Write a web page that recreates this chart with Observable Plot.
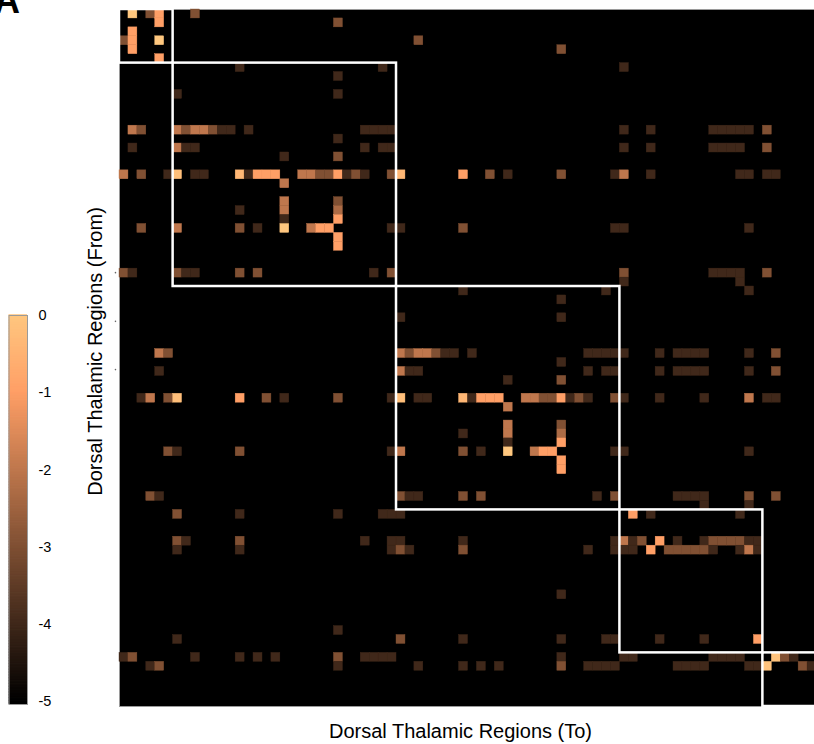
<!DOCTYPE html>
<html>
<head>
<meta charset="utf-8">
<script src="https://cdn.jsdelivr.net/npm/d3@7"></script>
<script src="https://cdn.jsdelivr.net/npm/@observablehq/plot@0.6"></script>
<style>
html,body{margin:0;padding:0;background:#fff;width:814px;height:744px;overflow:hidden;position:relative;font-family:"Liberation Sans",Arial,sans-serif}
#matrix,#bar{position:absolute;left:0;top:0}
#panel{position:absolute;left:-6px;top:-17px;font:bold 36px "Liberation Sans",Arial,sans-serif;color:#000;line-height:36px}
svg{display:block}
</style>
</head>
<body>
<div id="matrix"></div>
<div id="bar"></div>
<div id="panel">A</div>
<script>
const regionCount = 78;
const xLabel = "Dorsal Thalamic Regions (To)";
const yLabel = "Dorsal Thalamic Regions (From)";
const blockEdges = [0, 6, 31, 56, 72, 78];
const colorbarTicks = [0, -1, -2, -3, -4, -5];
const colorDomain = [-5, -1, 0];
const colorRange = ["#000000", "#ff9f66", "#ffc77f"];
const leftEdgeSpecks = [29.45, 34.9, 40.3];
// each row: [row, [col, log10 value, col, log10 value, ...]]
const sparseRows = [
[0,[1,0,3,-3,4,-1,8,-3]],
[1,[4,-1,24,-3]],
[2,[1,-1]],
[3,[0,-3,1,-1,4,0,33,-3]],
[4,[1,-1,49,-3]],
[5,[4,-1]],
[6,[13,-4,29,-4,56,-4]],
[7,[24,-4]],
[9,[6,-4,24,-4]],
[13,[1,-2,2,-3,6,-2,7,-3,8,-2,9,-2,10,-3,11,-4,12,-4,14,-4,27,-4,28,-4,29,-4,30,-4,56,-4,59,-4,66,-4,67,-4,68,-4,69,-4,70,-4,72,-3]],
[14,[24,-4]],
[15,[1,-4,6,-2,7,-4,8,-4,27,-4,29,-4,30,-4,56,-4,59,-4,66,-4,67,-4,68,-4,69,-4,72,-3]],
[16,[18,-4,24,-3]],
[18,[0,-2,2,-3,5,-4,6,-0.2,8,-4,9,-4,13,-0.4,14,-4,15,-1,16,-1,17,-1,20,-2,21,-2,22,-3,23,-3,24,-1,25,-4,26,-3,27,-4,30,-3,31,-0.4,38,-1,41,-3,43,-4,49,-3,55,-4,56,-2,59,-4,69,-4,70,-4,72,-4,73,-4]],
[19,[18,-2]],
[21,[18,-2,24,-3]],
[22,[13,-4,18,-2,24,-2.3]],
[23,[18,-4,24,-1]],
[24,[2,-3,6,-2,13,-3,15,-4,18,0,21,-2,22,-1,23,-1,30,-4,31,-4,38,-3,55,-4,56,-4,70,-4]],
[25,[24,-1]],
[26,[24,-1]],
[29,[0,-3,1,-4,6,-3,7,-4,8,-4,13,-3,15,-3,28,-4,30,-3,56,-3,66,-4,67,-4,68,-4,69,-4,72,-3]],
[30,[56,-4,69,-4]],
[31,[38,-4,54,-4,70,-4]],
[32,[49,-4]],
[34,[31,-4,49,-4]],
[38,[4,-2,5,-3,31,-2,32,-3,33,-2,34,-2,35,-3,36,-4,37,-4,39,-4,52,-4,53,-4,54,-4,55,-4,56,-4,60,-4,62,-4,63,-4,64,-4,65,-4,70,-4,73,-3]],
[39,[49,-4]],
[40,[4,-4,31,-2,32,-4,33,-4,52,-4,54,-4,55,-4,60,-4,62,-4,63,-4,64,-4,65,-4,70,-4,73,-3]],
[41,[43,-4,49,-3]],
[43,[2,-4,3,-2,5,-3,6,-0.2,13,-1,16,-3,18,-4,24,-3,30,-4,31,-0.2,33,-4,34,-4,38,-0.4,39,-4,40,-1,41,-1,42,-1,45,-2,46,-2,47,-3,48,-3,49,-1,50,-4,51,-3,52,-4,55,-3,56,-4,60,-4,65,-4,70,-2,72,-4,73,-4]],
[44,[43,-2]],
[46,[43,-2,49,-3]],
[47,[38,-4,43,-2,49,-2.3]],
[48,[43,-4,49,-1]],
[49,[5,-3,6,-4,13,-3,30,-4,31,-2,38,-3,40,-4,43,0,46,-2,47,-1,48,-1,55,-4,56,-4,70,-4]],
[50,[49,-1]],
[51,[49,-1]],
[54,[3,-3,4,-4,31,-3,32,-4,33,-4,38,-3,40,-3,53,-4,55,-3,62,-4,63,-4,64,-4,65,-4,70,-3,73,-3]],
[55,[65,-4,70,-4]],
[56,[6,-3,13,-4,24,-4,29,-4,30,-4,31,-4,57,-1,59,-4,69,-4]],
[59,[6,-3,7,-4,13,-3,27,-4,30,-4,31,-4,38,-4,55,-4,56,-2,57,-4,58,-3,60,-1,62,-4,65,-4,66,-3,67,-3,68,-3,69,-3,70,-4,71,-4]],
[60,[6,-4,13,-4,30,-4,31,-3,32,-4,38,-3,52,-4,55,-4,56,-4,57,-4,59,-1,61,-3,62,-3,63,-3,64,-3,65,-3,66,-4,69,-4,70,-2,71,-4]],
[65,[49,-4]],
[69,[24,-4]],
[70,[6,-4,31,-3,38,-4,49,-4,54,-4,55,-4,60,-4,65,-4,71,-1]],
[72,[0,-4,1,-3,8,-4,13,-4,15,-4,17,-4,24,-3,27,-4,28,-4,29,-4,30,-4,49,-4,56,-4,57,-4,66,-4,67,-4,68,-4,69,-4,73,-0.1,74,-3,75,-4]],
[73,[3,-4,4,-3,24,-4,33,-4,38,-4,40,-4,42,-4,49,-3,52,-4,53,-4,54,-4,55,-4,62,-4,63,-4,64,-4,65,-4,70,-4,71,-4,72,-0.1,76,-3,77,-4]]
];

const cells = sparseRows.flatMap(([row, pairs]) =>
  d3.range(0, pairs.length, 2).map(i => ({row, col: pairs[i], value: pairs[i + 1]})));
const blocks = d3.pairs(blockEdges).map(([a, b]) => ({a, b}));
const color = {type: "linear", domain: colorDomain, range: colorRange, interpolate: "rgb"};
const fontFamily = '"Liberation Sans", Arial, sans-serif';

const matrix = Plot.plot({
  width: 814, height: 744,
  marginLeft: 119, marginRight: -2, marginTop: 9, marginBottom: 38,
  style: {background: "transparent", fontFamily},
  x: {domain: [0, regionCount], axis: null},
  y: {domain: [0, regionCount], reverse: true, axis: null},
  color,
  marks: [
    Plot.frame({fill: "#000", stroke: "#9a9a9a", strokeWidth: 1}),
    Plot.rect(cells, {x1: "col", x2: d => d.col + 1, y1: "row", y2: d => d.row + 1, fill: "value", stroke: "value", strokeWidth: 0.4}),
    Plot.rect(blocks, {x1: "a", x2: "b", y1: "a", y2: "b", fill: "none", stroke: "#fff", strokeWidth: 2.5}),
    Plot.dot(leftEdgeSpecks, {x: -0.45, y: d => d, r: 0.8, fill: "#666"}),
    Plot.text([xLabel], {x: regionCount / 2, y: regionCount, text: d => d, dx: -7.5, dy: 25, fontSize: 20, fill: "#000"}),
    Plot.text([yLabel], {x: 0, y: regionCount / 2, text: d => d, rotate: -90, dx: -24, dy: -6.5, fontSize: 20, fill: "#000"})
  ]
});
document.getElementById("matrix").append(matrix);

const barValues = d3.range(-5.04, 0, 0.02);
const bar = Plot.plot({
  width: 60, height: 744,
  marginLeft: 8.5, marginRight: 33, marginTop: 315, marginBottom: 40,
  style: {background: "transparent", fontFamily},
  x: {axis: null},
  y: {domain: [-5.04, 0], axis: null},
  color: {...color, clamp: true},
  marks: [
    Plot.rect(barValues, {y1: d => d, y2: d => d + 0.03, fill: d => d}),
    Plot.frame({stroke: "#9a9a9a", strokeWidth: 1}),
    Plot.text(colorbarTicks, {y: d => d, frameAnchor: "right", text: d => String(d), textAnchor: "start", dx: 11, fontSize: 14.5, fill: "#000"})
  ]
});
document.getElementById("bar").append(bar);
</script>
</body>
</html>
